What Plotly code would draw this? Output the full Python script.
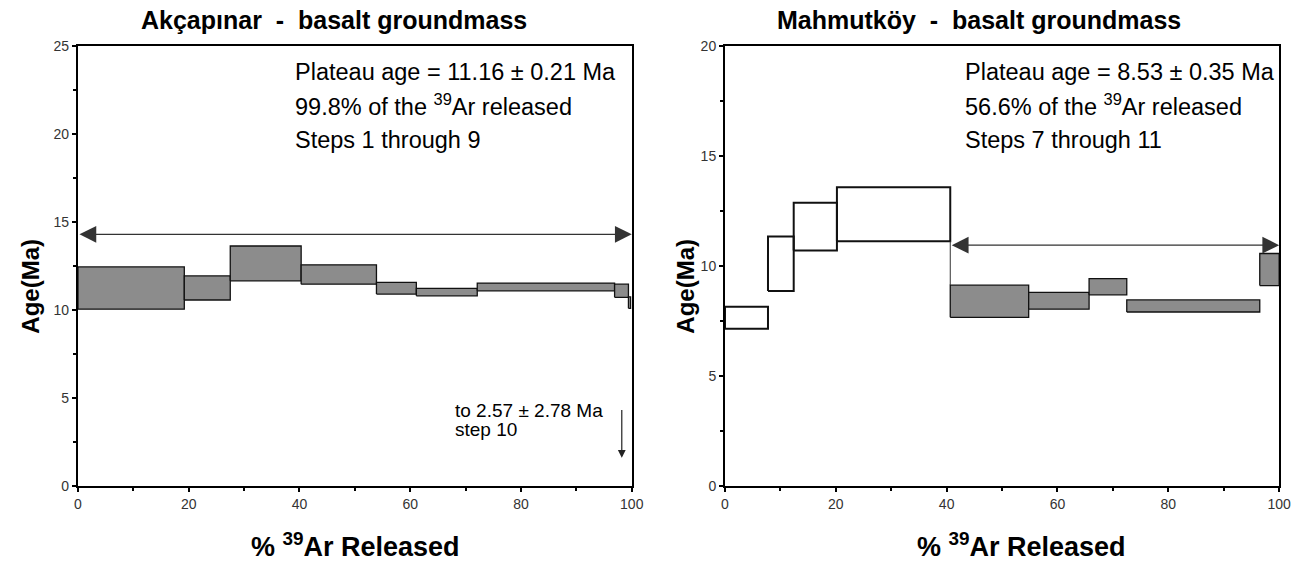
import plotly.graph_objects as go

# ---- Data: Akçapınar (left) ----
ak_x0 = [0.0, 19.2, 27.5, 40.3, 53.9, 61.1, 72.1, 96.9, 99.4]
ak_x1 = [19.2, 27.5, 40.3, 53.9, 61.1, 72.1, 96.9, 99.4, 99.8]
ak_lo = [10.05, 10.57, 11.66, 11.47, 10.91, 10.81, 11.09, 10.72, 10.10]
ak_hi = [12.45, 11.94, 13.64, 12.57, 11.57, 11.23, 11.53, 11.47, 10.75]
ak_fill = [True] * 9
ak_plateau = 14.3

# ---- Data: Mahmutköy (right) ----
ma_x0 = [0.0, 7.76, 12.4, 20.2, 40.65, 54.8, 65.7, 72.5, 96.5]
ma_x1 = [7.76, 12.4, 20.2, 40.65, 54.8, 65.7, 72.5, 96.5, 100.0]
ma_lo = [7.15, 8.87, 10.71, 11.13, 7.67, 8.04, 8.69, 7.91, 9.11]
ma_hi = [8.15, 11.34, 12.88, 13.58, 9.13, 8.80, 9.43, 8.46, 10.57]
ma_fill = [False, False, False, False, True, True, True, True, True]
ma_plateau = 10.95
ma_plateau_start = 40.65

x_ticks = [0, 20, 40, 60, 80, 100]
ak_y_ticks = [0, 5, 10, 15, 20, 25]
ma_y_ticks = [0, 5, 10, 15, 20]

GRAY = "#8c8c8c"
FONT = "Liberation Sans, Arial, sans-serif"

fig = go.Figure()

def add_steps(x0, x1, lo, hi, filled, xa, ya):
    for a, b, l, h, f in zip(x0, x1, lo, hi, filled):
        fig.add_trace(go.Scatter(
            x=[a, b, b, a, a], y=[l, l, h, h, l],
            mode="lines", fill="toself",
            fillcolor=GRAY if f else "rgba(0,0,0,0)",
            line=dict(color="#111111", width=2.0 if not f else 1.3),
            xaxis=xa, yaxis=ya, showlegend=False, hoverinfo="skip"))

add_steps(ak_x0, ak_x1, ak_lo, ak_hi, ak_fill, "x", "y")
add_steps(ma_x0, ma_x1, ma_lo, ma_hi, ma_fill, "x2", "y2")

# thin connector line in right plot between step 4 and step 5
fig.add_trace(go.Scatter(x=[ma_x1[3], ma_x1[3]], y=[ma_lo[3], ma_hi[4]], mode="lines",
                         line=dict(color="#333333", width=1), xaxis="x2", yaxis="y2",
                         showlegend=False, hoverinfo="skip"))

axis_common = dict(showline=True, linecolor="black", linewidth=2, mirror=True,
                   ticks="outside", ticklen=4, tickwidth=1.5, tickcolor="black",
                   showgrid=False, zeroline=False, automargin=False,
                   tickfont=dict(family=FONT, size=14, color="#333333"))

Y_DOM = [0.1352, 0.918]

fig.update_layout(
    width=1293, height=562,
    margin=dict(l=0, r=0, t=0, b=0, autoexpand=False),
    paper_bgcolor="white", plot_bgcolor="white",
    xaxis=dict(domain=[0.0603, 0.4886], range=[0, 100], tickvals=x_ticks,
               minor=dict(dtick=10, ticks="outside", ticklen=3, tickcolor="black"),
               anchor="y", **axis_common),
    yaxis=dict(domain=Y_DOM, range=[0, 25], tickvals=ak_y_ticks,
               minor=dict(dtick=2.5, ticks="outside", ticklen=3, tickcolor="black"),
               anchor="x", **axis_common),
    xaxis2=dict(domain=[0.5607, 0.9893], range=[0, 100], tickvals=x_ticks,
                minor=dict(dtick=10, ticks="outside", ticklen=3, tickcolor="black"),
                anchor="y2", **axis_common),
    yaxis2=dict(domain=Y_DOM, range=[0, 20], tickvals=ma_y_ticks,
                minor=dict(dtick=2.5, ticks="outside", ticklen=3, tickcolor="black"),
                anchor="x2", **axis_common),
)

ann = []
def txt(x, y, text, size, bold=False, xanchor="left", yanchor="middle", angle=0, family=FONT):
    ann.append(dict(x=x, y=y, xref="paper", yref="paper", text=f"<b>{text}</b>" if bold else text,
                    showarrow=False, xanchor=xanchor, yanchor=yanchor, textangle=angle,
                    font=dict(family=family, size=size, color="black")))

# Titles
txt(0.258, 0.965, "Akçapınar  -  basalt groundmass", 25, bold=True, xanchor="center")
txt(0.757, 0.965, "Mahmutköy  -  basalt groundmass", 25, bold=True, xanchor="center")
# x titles
txt(0.275, 0.031, "% <sup>39</sup>Ar Released", 27, bold=True, xanchor="center")
txt(0.790, 0.031, "% <sup>39</sup>Ar Released", 27, bold=True, xanchor="center")
# y titles
txt(0.0240, 0.49, "Age(Ma)", 24, bold=True, xanchor="center", angle=-90)
txt(0.5306, 0.49, "Age(Ma)", 24, bold=True, xanchor="center", angle=-90)

# Info text left
txt(0.2266, 0.872, "Plateau age = 11.16 ± 0.21 Ma", 23.5)
txt(0.2266, 0.813, "99.8% of the <sup>39</sup>Ar released", 23.5)
txt(0.2266, 0.751, "Steps 1 through 9", 23.5)
# Info text right
txt(0.7448, 0.872, "Plateau age = 8.53 ± 0.35 Ma", 23.5)
txt(0.7448, 0.813, "56.6% of the <sup>39</sup>Ar released", 23.5)
txt(0.7448, 0.751, "Steps 7 through 11", 23.5)

# step 10 note
txt(0.3505, 0.270, "to 2.57 ± 2.78 Ma", 19)
txt(0.3505, 0.235, "step 10", 19)

for a in ann:
    fig.add_annotation(**a)

# Plateau arrows (double-headed)
fig.add_annotation(x=100, y=ak_plateau, ax=0, ay=ak_plateau, xref="x", yref="y", axref="x", ayref="y",
                   text="", showarrow=True, arrowhead=2, startarrowhead=2, arrowside="end+start",
                   arrowsize=2.4, startarrowsize=2.4, arrowwidth=1.4, arrowcolor="#333333")
fig.add_annotation(x=100, y=ma_plateau, ax=ma_plateau_start, ay=ma_plateau, xref="x2", yref="y2",
                   axref="x2", ayref="y2",
                   text="", showarrow=True, arrowhead=2, startarrowhead=2, arrowside="end+start",
                   arrowsize=2.4, startarrowsize=2.4, arrowwidth=1.4, arrowcolor="#333333")
# step 10 arrow
fig.add_annotation(x=98.2, y=1.6, ax=98.2, ay=4.4, xref="x", yref="y", axref="x", ayref="y",
                   text="", showarrow=True, arrowhead=2, arrowsize=1.3, arrowwidth=1.2,
                   arrowcolor="#222222")

fig.write_html("out.html", config={"displayModeBar": False},
               post_script="document.body.style.margin='0';document.body.style.overflow='hidden';")
